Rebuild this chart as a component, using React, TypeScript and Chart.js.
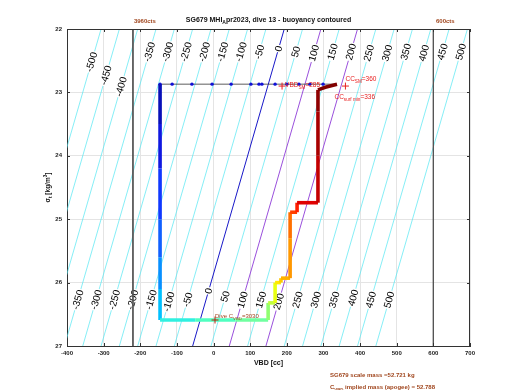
import React, { useEffect, useRef } from "react";
import { Chart, registerables } from "chart.js";
Chart.register(...registerables);

// ---- data ----
const xTicks = [-400, -300, -200, -100, 0, 100, 200, 300, 400, 500, 600, 700];
const yTicks = [22, 23, 24, 25, 26, 27];

const contourLevels = [-500, -450, -400, -350, -300, -250, -200, -150, -100, -50, 0, 50, 100, 150, 200, 250, 300, 350, 400, 450, 500];
const contourVbdAt22 = [-307, -257, -207, -157, -107, -57, -7, 43, 93, 143, 193, 243, 293, 343, 393, 443, 493, 543, 593, 643, 693];
const contourVbdAt27 = [-557, -507, -457, -407, -357, -307, -257, -207, -157, -107, -57, -7, 43, 93, 143, 193, 243, 293, 343, 393, 443];
const labelSigmaTop = [22.52, 22.73, 22.91, 22.36, 22.36, 22.36, 22.36, 22.36, 22.36, 22.36, 22.31, 22.36, 22.38, 22.36, 22.36, 22.38, 22.38, 22.36, 22.38, 22.36, 22.36];
const labelSigmaBottom = [null, null, null, 26.27, 26.27, 26.27, 26.27, 26.27, 26.3, 26.27, 26.13, 26.22, 26.27, 26.27, 26.3, 26.27, 26.27, 26.27, 26.24, 26.27, 26.27];
const highlightLevels = [0, 100, 200];
const highlightColors = ["#1818c8", "#9a50dc", "#9a50dc"];

const limitVbd = [-220, 600];
const limitLabels = ["3960cts", "600cts"];

const surfaceVbd = [337, 299, 263, 233, 200, 168, 132, 124, 102, 48, -4, -59, -113, -146];
const surfaceSigma = [22.87, 22.87, 22.87, 22.87, 22.87, 22.87, 22.87, 22.87, 22.87, 22.87, 22.87, 22.87, 22.87, 22.87];

const diveVbd = [-146, -146, -146, -146, -146, -146, -146, -50, 60, 149, 149, 168, 168, 184, 184, 209, 209, 209, 228, 228, 285, 285, 285, 285, 305, 337];
const diveSigma = [22.87, 23.5, 24.2, 25.0, 25.6, 26.1, 26.59, 26.59, 26.59, 26.59, 26.32, 26.32, 26.0, 26.0, 25.93, 25.93, 25.3, 24.89, 24.89, 24.74, 24.74, 24.0, 23.3, 22.96, 22.92, 22.87];
const diveColor = ["#0810b8", "#1018e0", "#1038ff", "#1060ff", "#0890ff", "#00c0ff", "#30f0e0", "#50ffc0", "#70ffa0", "#90ff70", "#c0ff40", "#e8ff10", "#ffe800", "#ffc800", "#ffb000", "#ff9800", "#ff7000", "#ff4000", "#ff2000", "#e00000", "#c40000", "#a80000", "#900000", "#800000", "#800000", "#800000"];

const ccSmVbd = 360;
const ccSmSigma = 22.9;
const vbdSmVbd = 187;
const diveCvbdVbd = 4;
const diveCvbdSigma = 26.59;

const SIENNA = "#a0461e";
const RED = "#e82020";
const FONT = "'Liberation Sans', Arial, sans-serif";

type Part = [string, number]; // 0 normal, 1 sub, 2 sup

function drawParts(ctx: CanvasRenderingContext2D, x: number, y: number, parts: Part[], size: number, bold: boolean, color: string, align: string) {
  const f = (s: number) => `${bold ? "bold " : ""}${s}px ${FONT}`;
  const widths = parts.map(([t, k]) => {
    ctx.font = f(k ? size * 0.72 : size);
    return ctx.measureText(t).width;
  });
  const total = widths.reduce((a, b) => a + b, 0);
  let cx = align === "center" ? x - total / 2 : align === "right" ? x - total : x;
  ctx.fillStyle = color;
  ctx.textAlign = "left";
  ctx.textBaseline = "alphabetic";
  parts.forEach(([t, k], i) => {
    ctx.font = f(k ? size * 0.72 : size);
    const dy = k === 1 ? size * 0.35 : k === 2 ? -size * 0.45 : 0;
    ctx.fillText(t, cx, y + dy);
    cx += widths[i];
  });
}

const annotPlugin = {
  id: "annot",
  afterDatasetDraw(chart: any, args: any) {
    const ds = chart.data.datasets[args.index];
    if (!ds || ds.id !== "lastContour") return;
    const { ctx, chartArea: a, scales } = chart;
    const xs = scales.x, ys = scales.y;
    ctx.save();
    ctx.beginPath();
    ctx.rect(a.left, a.top, a.right - a.left, a.bottom - a.top);
    ctx.clip();
    ctx.font = `10px ${FONT}`;
    ctx.textAlign = "center";
    ctx.textBaseline = "middle";
    contourLevels.forEach((lev, i) => {
      const v22 = contourVbdAt22[i], v27 = contourVbdAt27[i];
      const ang = Math.atan2(ys.getPixelForValue(22) - ys.getPixelForValue(27), xs.getPixelForValue(v22) - xs.getPixelForValue(v27));
      [labelSigmaTop[i], labelSigmaBottom[i]].forEach((s) => {
        if (s == null) return;
        const t = (s - 27) / (22 - 27);
        const v = v27 + t * (v22 - v27);
        const px = xs.getPixelForValue(v), py = ys.getPixelForValue(s);
        const txt = String(lev);
        ctx.save();
        ctx.translate(px, py);
        ctx.rotate(ang);
        const w = ctx.measureText(txt).width;
        ctx.fillStyle = "#ffffff";
        ctx.fillRect(-w / 2 - 1, -3.5, w + 2, 7);
        ctx.fillStyle = "#000000";
        ctx.fillText(txt, 0, 0.5);
        ctx.restore();
      });
    });
    ctx.restore();
  },
  afterDraw(chart: any) {
    const { ctx, chartArea: a, scales } = chart;
    const xs = scales.x, ys = scales.y;
    ctx.save();
    // box and inward ticks
    ctx.strokeStyle = "#333";
    ctx.lineWidth = 1;
    ctx.beginPath();
    ctx.moveTo(a.left, a.top + 0.5); ctx.lineTo(a.right, a.top + 0.5);
    ctx.moveTo(a.right - 0.5, a.top); ctx.lineTo(a.right - 0.5, a.bottom);
    xTicks.forEach((v) => {
      const px = Math.round(xs.getPixelForValue(v)) + 0.5;
      ctx.moveTo(px, a.bottom); ctx.lineTo(px, a.bottom - 3);
      ctx.moveTo(px, a.top); ctx.lineTo(px, a.top + 3);
    });
    yTicks.forEach((v) => {
      const py = Math.round(ys.getPixelForValue(v)) + 0.5;
      ctx.moveTo(a.left, py); ctx.lineTo(a.left + 3, py);
      ctx.moveTo(a.right, py); ctx.lineTo(a.right - 3, py);
    });
    ctx.stroke();

    // title
    const cx = (a.left + a.right) / 2;
    drawParts(ctx, cx, 22, [["SG679 MHI", 0], ["A", 1], ["pr2023, dive 13 - buoyancy contoured", 0]], 7, true, "#111", "center");
    limitVbd.forEach((v, i) => {
      drawParts(ctx, xs.getPixelForValue(v) + 12, 23, [[limitLabels[i], 0]], 6, true, SIENNA, "center");
    });
    // axis titles
    drawParts(ctx, cx, 365, [["VBD [cc]", 0]], 7, true, "#111", "center");
    ctx.save();
    ctx.translate(50, (a.top + a.bottom) / 2);
    ctx.rotate(-Math.PI / 2);
    drawParts(ctx, 0, 0, [["\u03c3", 0], ["t", 1], [" [kg/m", 0], ["3", 2], ["]", 0]], 6.5, true, "#111", "center");
    ctx.restore();

    // annotations near surface
    const smX = xs.getPixelForValue(ccSmVbd), smY = ys.getPixelForValue(ccSmSigma);
    drawParts(ctx, smX, smY - 5, [["CC", 0], ["SM", 1], ["=360", 0]], 6.5, false, RED, "left");
    drawParts(ctx, smX - 11, smY + 13, [["CC", 0], ["surf min", 1], ["=336", 0]], 6.5, false, RED, "left");
    const vsX = xs.getPixelForValue(vbdSmVbd);
    drawParts(ctx, vsX + 3, smY + 1, [["VBD", 0], ["SM", 1], ["=285", 0]], 6.5, false, RED, "left");
    const dX = xs.getPixelForValue(diveCvbdVbd), dY = ys.getPixelForValue(diveCvbdSigma);
    drawParts(ctx, dX, dY - 2, [["Dive C", 0], ["VBD", 1], ["=3030", 0]], 6, false, SIENNA, "left");

    // bottom-right notes
    drawParts(ctx, 330, 377, [["SG679 scale mass =52.721 kg", 0]], 6, true, SIENNA, "left");
    drawParts(ctx, 330, 389, [["C", 0], ["VBD", 1], [" implied mass (apogee) = 52.788", 0]], 6, true, SIENNA, "left");
    ctx.restore();
  },
};

export default function App() {
  const ref = useRef<HTMLCanvasElement | null>(null);
  useEffect(() => {
    if (!ref.current) return;
    const datasets: any[] = [];
    contourLevels.forEach((lev, i) => {
      if (highlightLevels.includes(lev)) return;
      datasets.push({
        data: [{ x: contourVbdAt27[i], y: 27 }, { x: contourVbdAt22[i], y: 22 }],
        showLine: true, borderColor: "#52e6f2", borderWidth: 0.7, pointRadius: 0, order: 20,
      });
    });
    highlightLevels.forEach((lev, k) => {
      const i = contourLevels.indexOf(lev);
      datasets.push({
        id: k === highlightLevels.length - 1 ? "lastContour" : undefined,
        data: [{ x: contourVbdAt27[i], y: 27 }, { x: contourVbdAt22[i], y: 22 }],
        showLine: true, borderColor: highlightColors[k], borderWidth: 1, pointRadius: 0, order: 15 - k,
      });
    });
    limitVbd.forEach((v) => {
      datasets.push({
        data: [{ x: v, y: 22 }, { x: v, y: 27 }],
        showLine: true, borderColor: "#555", borderWidth: 1, pointRadius: 0, order: 9,
      });
    });
    datasets.push({
      data: surfaceVbd.map((v, i) => ({ x: v, y: surfaceSigma[i] })),
      showLine: true, borderColor: "#333", borderWidth: 0.8,
      pointRadius: surfaceVbd.map((_, i) => (i === 0 ? 0 : 1.7)),
      pointBackgroundColor: "#1010d8", pointBorderWidth: 0, order: 6,
    });
    datasets.push({
      data: diveVbd.map((v, i) => ({ x: v, y: diveSigma[i] })),
      showLine: true, borderWidth: 3.6, borderColor: "#800000", pointRadius: 0,
      borderJoinStyle: "miter", borderCapStyle: "butt",
      segment: { borderColor: (c: any) => diveColor[c.p0DataIndex] },
      order: 5,
    });
    datasets.push({
      data: [{ x: ccSmVbd, y: ccSmSigma }, { x: vbdSmVbd, y: ccSmSigma }],
      showLine: false, pointStyle: "cross", pointRadius: 3.5, borderColor: RED, borderWidth: 1, order: 2,
    });
    datasets.push({
      data: [{ x: diveCvbdVbd, y: diveCvbdSigma }],
      showLine: false, pointStyle: "cross", pointRadius: 3.5, borderColor: "#c02010", borderWidth: 1, order: 2,
    });

    const tickFont = { size: 6, weight: "bold" as const, family: FONT };
    const chart = new Chart(ref.current, {
      type: "scatter",
      data: { datasets },
      options: {
        responsive: false,
        animation: false,
        layout: { padding: { left: 0, right: 50, top: 29, bottom: 24 } },
        plugins: { legend: { display: false }, tooltip: { enabled: false }, title: { display: false } },
        scales: {
          x: {
            type: "linear", min: -400, max: 700,
            afterBuildTicks: (s: any) => { s.ticks = xTicks.map((v) => ({ value: v })); },
            ticks: { font: tickFont, color: "#222", padding: 4, maxRotation: 0, autoSkip: false },
            grid: { color: "#e4e4e4", drawTicks: false, lineWidth: 1 },
            border: { color: "#333" },
            afterFit: (s: any) => { s.height = 20; },
          },
          y: {
            type: "linear", min: 22, max: 27, reverse: true,
            afterBuildTicks: (s: any) => { s.ticks = yTicks.map((v) => ({ value: v })); },
            ticks: { font: tickFont, color: "#222", padding: 5, autoSkip: false },
            grid: { color: "#e4e4e4", drawTicks: false, lineWidth: 1 },
            border: { color: "#333" },
            afterFit: (s: any) => { s.width = 67; },
          },
        },
      } as any,
      plugins: [annotPlugin as any],
    });
    return () => chart.destroy();
  }, []);
  return (
    <div style={{ position: "fixed", left: 0, top: 0, width: 520, height: 390, background: "#fff" }}>
      <canvas ref={ref} width={520} height={390} style={{ display: "block" }} />
    </div>
  );
}
